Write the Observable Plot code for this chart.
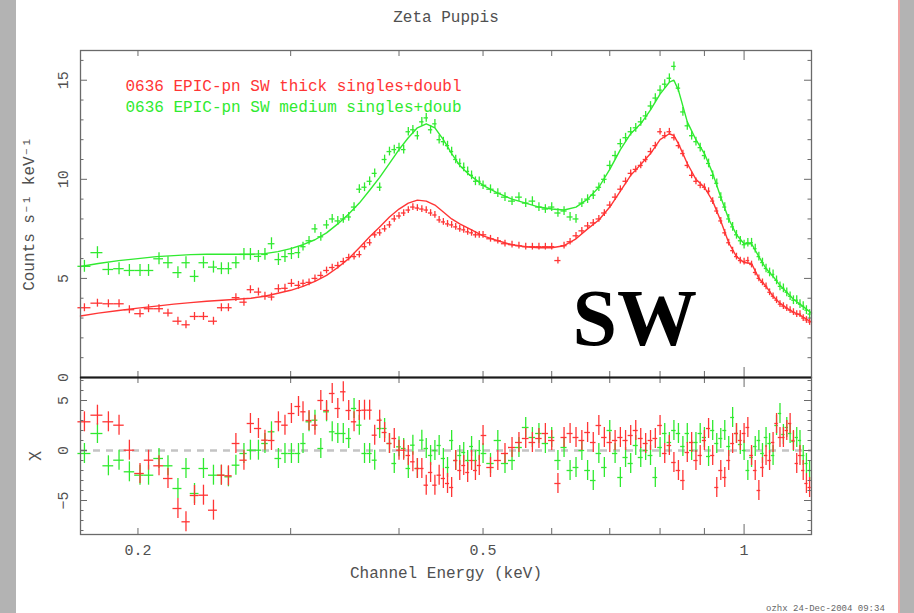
<!DOCTYPE html>
<html><head><meta charset="utf-8">
<script src="https://cdn.jsdelivr.net/npm/d3@7"></script>
<script src="https://cdn.jsdelivr.net/npm/@observablehq/plot@0.6"></script>
<style>
html,body{margin:0;padding:0;background:#fff;overflow:hidden;}
#wrap{position:relative;width:914px;height:613px;overflow:hidden;background:#fff;}
#wrap svg{position:absolute;left:0;top:0;}
.strip{position:absolute;top:0;height:613px;}
#foot{position:absolute;left:766px;top:604px;font:9px 'Liberation Mono',monospace;color:#666;white-space:nowrap;}
</style></head><body><div id="wrap">
<div class="strip" style="left:0;width:16px;background:#b3b3b3"></div>
<div class="strip" style="left:898px;width:2px;background:#f4a3a3"></div>
<div class="strip" style="left:900px;width:14px;background:#b3b3b3"></div>
<div id="foot">ozhx 24-Dec-2004 09:34</div>
</div>
<script>
// ---- data -------------------------------------------------------------
const title = "Zeta Puppis";
const legendRed = "0636 EPIC-pn SW thick singles+doubl";
const legendGreen = "0636 EPIC-pn SW medium singles+doub";
const xLabel = "Channel Energy (keV)";
const yLabelTop = "Counts s\u207B\u00B9 keV\u207B\u00B9";
const yLabelBottom = "\u03C7";
const bigLabel = "SW";

// channel energies (keV), shared by both spectra
const energy = [
  0.1735,0.1796,0.1849,0.1902,0.1955,0.2011,0.2057,0.2115,0.2166,0.2224,0.2272,0.2324,0.2380,
  0.2444,0.2496,0.2543,0.2594,0.2650,0.2696,0.2754,0.2802,0.2851,0.2904,0.2955,0.3006,0.3063,
  0.310,0.315,0.320,0.325,0.330,0.335,0.340,0.345,0.350,0.355,0.360,0.365,0.370,0.375,0.380,
  0.385,0.390,0.395,0.400,0.405,0.410,0.415,0.420,0.425,0.430,0.435,0.440,0.445,0.450,0.455,
  0.460,0.465,0.470,0.475,0.480,0.485,0.490,0.495,
  0.50,0.51,0.52,0.53,0.54,0.55,0.56,0.57,0.58,0.59,0.60,0.61,0.62,0.63,0.64,0.65,0.66,0.67,
  0.68,0.69,0.70,0.71,0.72,0.73,0.74,0.75,0.76,0.77,0.78,0.79,0.80,0.81,0.82,0.83,0.84,0.85,
  0.86,0.87,0.88,0.89,0.90,0.91,0.92,0.93,0.94,0.95,0.96,0.97,0.98,0.99,1.00,1.01,1.02,1.03,
  1.04,1.05,1.06,1.07,1.08,1.09,1.10,1.11,1.12,1.13,1.14,1.15,1.16,1.17,1.18,1.19
];
const wideBins = 26; // first channels are grouped into wide bins

// thick filter (red) count rates
const redRate = [
  3.52,3.75,3.72,3.72,3.42,3.22,3.47,3.47,3.25,2.84,2.66,3.08,3.08,
  2.84,3.52,3.52,4.03,3.80,4.43,4.31,4.10,4.06,4.48,4.50,4.75,4.65,
  4.75,4.80,5.00,5.15,5.40,5.55,5.65,5.85,6.05,6.10,6.20,6.60,6.80,7.20,7.30,
  7.50,7.70,8.00,8.15,8.30,8.45,8.60,8.55,8.50,8.45,8.30,8.20,7.95,7.85,7.75,
  7.70,7.60,7.50,7.45,7.35,7.30,7.20,7.20,
  7.20,7.00,6.90,6.75,6.70,6.65,6.60,6.60,6.60,6.60,6.60,5.90,6.65,6.85,7.15,7.40,7.65,7.80,
  8.00,8.30,8.70,9.10,9.50,9.90,10.30,10.50,10.70,11.00,11.40,11.70,12.40,12.20,12.40,12.10,11.70,11.30,
  10.70,10.20,9.90,9.70,9.60,9.40,8.90,8.40,7.90,7.30,6.80,6.40,6.10,5.90,5.85,5.90,5.70,5.30,
  5.00,4.80,4.60,4.30,4.10,3.90,3.70,3.60,3.50,3.40,3.30,3.20,3.20,3.00,2.90,2.80
];
// medium filter (green) count rates
const greenRate = [
  5.61,6.30,5.45,5.49,5.40,5.40,5.40,5.99,5.79,5.29,5.79,5.10,5.79,
  5.57,5.49,5.49,5.79,6.21,6.21,6.11,6.21,6.75,5.95,6.10,6.25,6.30,
  6.60,6.90,7.50,7.10,7.70,8.00,7.90,8.00,8.10,8.60,9.50,9.60,9.90,10.30,9.60,
  11.00,11.40,11.50,11.60,11.50,12.40,12.50,12.20,12.90,13.10,12.50,12.80,12.00,11.90,11.70,
  11.40,11.00,10.80,10.60,10.40,10.20,9.90,9.90,
  9.70,9.50,9.30,9.10,8.90,9.10,8.80,8.90,8.60,8.50,8.60,8.30,8.40,8.10,8.00,8.80,9.00,9.20,
  9.60,10.00,10.70,11.20,11.80,12.10,12.40,12.60,12.90,13.20,13.70,14.10,14.50,14.80,15.10,15.70,14.60,13.40,
  12.70,12.20,11.90,11.60,11.20,10.80,10.20,9.80,9.10,8.60,8.00,7.60,7.20,6.90,6.70,6.80,6.80,6.50,
  6.10,5.80,5.50,5.30,5.20,4.90,4.60,4.50,4.30,4.10,3.90,3.90,3.70,3.60,3.40,3.20
];
// rate error half-sizes (wide bins, narrow bins)
const redRateErr = [0.20, 0.17];
const greenRateErr = [0.30, 0.22];

// residuals (chi)
const redChi = [
  2.87,3.53,2.87,2.53,0.03,-2.30,-0.97,-1.53,-2.80,-5.80,-7.13,-4.50,-4.47,
  -5.97,-2.47,-2.53,0.70,-0.97,2.70,2.20,1.03,1.00,2.87,2.53,3.70,4.40,
  3.87,3.00,2.53,5.00,4.00,5.70,4.20,5.87,4.00,2.87,4.00,4.03,4.03,1.53,3.03,
  1.80,0.70,1.20,0.03,0.03,-0.50,-1.13,-1.80,-1.80,-3.47,-2.20,-3.47,-2.47,-2.80,-3.30,
  -3.70,-1.00,-2.00,-1.50,-2.20,-1.00,-2.00,-1.50,
  1.50,-1.70,-1.00,-0.30,0.30,0.80,1.20,0.80,1.20,1.70,1.00,-3.30,1.30,1.70,1.30,1.00,1.80,0.80,
  2.50,1.30,0.80,1.00,1.30,1.00,1.50,2.00,1.20,0.70,1.00,1.20,2.50,-0.30,0.50,-1.20,-2.00,-3.00,
  -0.20,0.80,-1.00,-0.50,1.00,2.20,-0.50,-3.70,-2.00,-2.70,-1.00,0.70,1.70,1.00,1.70,2.30,-0.50,-2.00,
  -4.00,-1.70,-0.50,-1.00,0.80,2.70,1.30,1.30,2.00,2.70,1.00,-1.30,-0.50,-2.00,-3.30,-3.70
];
const greenChi = [
  -0.30,1.70,-1.53,-0.97,-2.13,-2.47,-2.47,-0.80,-1.53,-3.80,-1.80,-4.30,-1.80,
  -2.47,-2.47,-2.63,-1.47,-0.30,0.03,0.03,0.70,1.87,-0.80,-0.30,-0.30,-0.30,
  0.70,2.87,3.03,0.20,3.87,1.87,1.70,1.70,1.20,4.20,2.53,-0.30,-0.30,-0.97,2.20,
  2.20,0.70,-1.30,0.37,0.20,-1.80,0.53,-1.80,1.03,0.20,-0.50,0.00,0.50,-0.80,-1.70,
  1.00,-1.00,-0.50,-0.20,-1.00,0.40,-1.00,0.00,
  -0.30,-1.30,1.00,-1.30,-1.00,0.30,2.30,1.30,1.70,0.70,1.30,-1.00,0.30,-2.00,-1.70,0.00,-2.00,-3.00,
  -0.30,-1.70,2.00,-0.30,-2.70,-0.70,-1.30,0.50,-0.70,0.00,-0.50,-2.70,0.30,1.70,0.80,2.00,1.70,0.40,
  1.70,0.00,0.80,1.70,1.30,-0.60,2.00,0.70,1.20,2.00,0.40,3.30,1.70,0.60,0.00,-2.00,-0.70,0.40,
  1.00,-0.30,1.30,0.70,-0.50,2.50,3.70,1.60,2.30,1.70,0.90,1.30,1.00,-0.50,-1.30,-2.00
];

// folded model curves
const redModelE = [0.1717,0.180,0.190,0.200,0.210,0.220,0.230,0.240,0.250,0.260,0.270,0.280,0.290,0.300,
  0.310,0.320,0.330,0.340,0.350,0.360,0.370,0.380,0.390,0.400,0.410,0.420,0.430,0.440,0.450,0.460,
  0.470,0.480,0.50,0.52,0.54,0.56,0.58,0.60,0.62,0.64,0.66,0.68,0.70,0.72,0.74,0.76,0.78,0.80,0.82,
  0.83,0.84,0.86,0.88,0.90,0.92,0.94,0.96,0.98,1.00,1.02,1.04,1.06,1.08,1.10,1.12,1.14,1.16,1.18,1.196];
const redModel = [3.10,3.25,3.38,3.50,3.60,3.70,3.78,3.85,3.90,3.95,4.00,4.10,4.25,4.40,
  4.60,4.85,5.15,5.55,6.00,6.55,7.10,7.60,8.10,8.50,8.80,8.95,8.90,8.70,8.35,8.00,
  7.75,7.55,7.15,6.90,6.70,6.60,6.55,6.55,6.65,7.00,7.50,7.95,8.60,9.40,10.20,10.75,11.30,12.00,12.30,
  12.20,11.80,10.80,10.00,9.60,8.90,7.90,6.80,6.10,5.80,5.75,5.00,4.60,4.10,3.75,3.50,3.30,3.15,2.95,2.80];
const greenModelE = redModelE;
const greenModel = [5.60,5.75,5.90,6.00,6.10,6.15,6.20,6.22,6.22,6.22,6.22,6.25,6.35,6.50,
  6.70,6.95,7.30,7.75,8.25,8.80,9.45,10.10,10.80,11.50,12.10,12.60,12.80,12.60,12.00,11.30,
  10.70,10.30,9.70,9.30,9.00,8.80,8.60,8.50,8.45,8.60,9.00,9.60,10.50,11.50,12.30,12.80,13.50,14.30,14.90,
  15.00,14.50,12.90,12.00,11.30,10.30,9.10,8.00,7.20,6.75,6.75,6.10,5.50,5.10,4.65,4.30,3.95,3.70,3.45,3.25];

// axes
const xDomain = [0.1717, 1.196];
const xTicks = [0.2,0.3,0.4,0.5,0.6,0.7,0.8,0.9];
const xTicksLong = [1];
const xTickLabels = [0.2, 0.5, 1];
const yTopDomain = [0, 16.5];
const yTopMajor = [0,5,10,15];
const yTopMinor = [1,2,3,4,6,7,8,9,11,12,13,14,16];
const yBotDomain = [-8.4, 7.3];
const yBotMajor = [-5,0,5];
const yBotMinor = [-8,-7,-6,-4,-3,-2,-1,1,2,3,4,6,7];

// ---- drawing ----------------------------------------------------------
const RED = "#ff3535", GREEN = "#30ea30", AX = "#6a6a6a", TXT = "#505050";
const FONT = "'Liberation Mono','DejaVu Sans Mono',monospace";
const W = 914, ML = 80, MR = 103, PW = W - ML - MR;

const bnd = energy.map((e, i) => {
  const p = i > 0 ? energy[i - 1] : e * e / energy[i + 1];
  const n = i < energy.length - 1 ? energy[i + 1] : e * e / energy[i - 1];
  return [Math.sqrt(p * e), Math.sqrt(e * n)];
});
function rows(rate, chi, err) {
  return energy.map((e, i) => ({e, lo: bnd[i][0], hi: bnd[i][1], v: rate[i], chi: chi[i],
    err: i < wideBins ? err[0] : err[1]}));
}
const red = rows(redRate, redChi, redRateErr);
const green = rows(greenRate, greenChi, greenRateErr);
const fmt = d => d < 0 ? "\u2212" + (-d) : String(d);

function dataMarks(rs, color) {
  return [
    Plot.ruleX(rs, {x: "e", y1: d => d.v - d.err, y2: d => d.v + d.err, stroke: color, strokeWidth: 1.3}),
    Plot.ruleY(rs, {y: "v", x1: "lo", x2: "hi", stroke: color, strokeWidth: 1.3})
  ];
}
function chiMarks(rs, color) {
  return [
    Plot.ruleX(rs, {x: "e", y1: d => d.chi - 1, y2: d => d.chi + 1, stroke: color, strokeWidth: 1.3}),
    Plot.ruleY(rs, {y: "chi", x1: "lo", x2: "hi", stroke: color, strokeWidth: 1.3})
  ];
}
function frameTicks(ph, major, minor) {
  return [
    Plot.tickY(major, {y: d => d, insetRight: PW - 7, stroke: AX}),
    Plot.tickY(major, {y: d => d, insetLeft: PW - 7, stroke: AX}),
    Plot.tickY(minor, {y: d => d, insetRight: PW - 3.5, stroke: AX}),
    Plot.tickY(minor, {y: d => d, insetLeft: PW - 3.5, stroke: AX}),
    Plot.tickX(xTicks, {x: d => d, insetBottom: ph - 6, stroke: AX}),
    Plot.tickX(xTicks, {x: d => d, insetTop: ph - 6, stroke: AX}),
    Plot.tickX(xTicksLong, {x: d => d, insetBottom: ph - 10, stroke: AX}),
    Plot.tickX(xTicksLong, {x: d => d, insetTop: ph - 10, stroke: AX}),
    Plot.frame({stroke: AX, strokeWidth: 1.3})
  ];
}

const topPlot = Plot.plot({
  width: W, height: 395, marginTop: 50, marginBottom: 18, marginLeft: ML, marginRight: MR,
  x: {type: "log", domain: xDomain, axis: null},
  y: {domain: yTopDomain, axis: null},
  style: {fontFamily: FONT, fontSize: "16px", color: TXT, background: "transparent"},
  marks: [
    Plot.line(greenModelE, {x: d => d, y: (d, i) => greenModel[i], stroke: GREEN, strokeWidth: 1.4}),
    Plot.line(redModelE, {x: d => d, y: (d, i) => redModel[i], stroke: RED, strokeWidth: 1.4}),
    ...dataMarks(green, GREEN),
    ...dataMarks(red, RED),
    ...frameTicks(327, yTopMajor, yTopMinor),
    Plot.ruleY([0], {stroke: "#1a1a1a", strokeWidth: 2}),
    Plot.text(yTopMajor, {y: d => d, text: fmt, frameAnchor: "left", textAnchor: "middle", dx: -17, rotate: -90, fill: TXT, fontSize: 15}),
    Plot.text([yLabelTop], {text: d => d, frameAnchor: "left", textAnchor: "middle", dx: -52, rotate: -90, fill: TXT, fontSize: 16}),
    Plot.text([title], {text: d => d, frameAnchor: "top", dy: -40, fill: TXT, fontSize: 16}),
    Plot.text([legendRed], {text: d => d, frameAnchor: "top-left", dx: 45, dy: 29, textAnchor: "start", fill: RED, fontSize: 16}),
    Plot.text([legendGreen], {text: d => d, frameAnchor: "top-left", dx: 45, dy: 50, textAnchor: "start", fill: GREEN, fontSize: 16}),
    Plot.text([bigLabel], {text: d => d, frameAnchor: "top-left", dx: 492, dy: 238, textAnchor: "start",
      fontFamily: "'Liberation Serif','Times New Roman',serif", fontWeight: "bold", fontSize: 80, fill: "#000"})
  ]
});

const botPlot = Plot.plot({
  width: W, height: 613, marginTop: 377, marginBottom: 79, marginLeft: ML, marginRight: MR,
  x: {type: "log", domain: xDomain, axis: null},
  y: {domain: yBotDomain, axis: null},
  style: {fontFamily: FONT, fontSize: "16px", color: TXT, background: "transparent"},
  marks: [
    Plot.ruleY([0], {stroke: "#c4c4c4", strokeWidth: 2.5, strokeDasharray: "7,6"}),
    ...chiMarks(green, GREEN),
    ...chiMarks(red, RED),
    ...frameTicks(157, yBotMajor, yBotMinor),
    Plot.text(yBotMajor, {y: d => d, text: fmt, frameAnchor: "left", textAnchor: "middle", dx: -17, rotate: -90, fill: TXT, fontSize: 15}),
    Plot.text([yLabelBottom], {text: d => d, frameAnchor: "left", textAnchor: "middle", dx: -48, rotate: -90, fill: TXT, fontSize: 17}),
    Plot.text(xTickLabels, {x: d => d, text: d => String(d), frameAnchor: "bottom", dy: 20, fill: TXT, fontSize: 15}),
    Plot.text([xLabel], {text: d => d, frameAnchor: "bottom", dy: 43, fill: TXT, fontSize: 16})
  ]
});

const wrap = document.getElementById("wrap");
wrap.appendChild(botPlot);
wrap.appendChild(topPlot);
</script></body></html>
